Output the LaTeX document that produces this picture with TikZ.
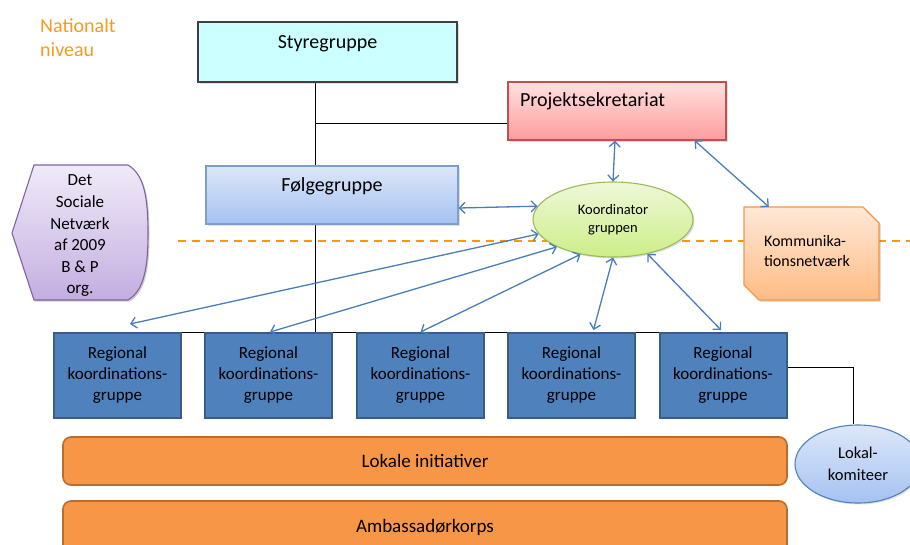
\documentclass[tikz,border=0pt]{standalone}
\usepackage{fontspec}
\setmainfont{Carlito}
\usetikzlibrary{arrows.meta,shapes.geometric,shadows,calc}
\definecolor{natorange}{HTML}{F79A1E}
\definecolor{dashorange}{HTML}{FF9900}
\definecolor{stycyan}{HTML}{CCFFFF}
\definecolor{arrowblue}{HTML}{4A7EBB}
\definecolor{regfill}{HTML}{4F81BD}
\definecolor{regdraw}{HTML}{385D8A}
\definecolor{orfill}{HTML}{F79646}
\definecolor{ordraw}{HTML}{B66D31}
\definecolor{pinktop}{HTML}{FFE0E0}
\definecolor{pinkbot}{HTML}{FF9C9C}
\definecolor{pinkdraw}{HTML}{C0504D}
\definecolor{bluetop}{HTML}{DDE7F8}
\definecolor{bluebot}{HTML}{A5C2F2}
\definecolor{bluedraw}{HTML}{7BA0CD}
\definecolor{greentop}{HTML}{EEF8D8}
\definecolor{greenbot}{HTML}{CDEE88}
\definecolor{greendraw}{HTML}{9BBB59}
\definecolor{komtop}{HTML}{FFE8D6}
\definecolor{kombot}{HTML}{FFBC84}
\definecolor{komdraw}{HTML}{F79646}
\definecolor{purtop}{HTML}{F0EAF8}
\definecolor{purbot}{HTML}{C3AEE0}
\definecolor{purdraw}{HTML}{8064A2}
\pgfdeclarelayer{deep}
\pgfdeclarelayer{background}
\pgfsetlayers{deep,background,main}
\begin{document}
\begin{tikzpicture}[x=1pt,y=-1pt,
  shad/.style={drop shadow={opacity=0.25,shadow xshift=1.5pt,shadow yshift=-1.5pt}},
  topbox/.style={rectangle, inner sep=0pt, font=\fontsize{20}{24}\selectfont, line width=1.2pt, shad},
  regbox/.style={rectangle, inner sep=0pt, minimum width=127pt, minimum height=85pt,
     fill=regfill, draw=regdraw, line width=2pt, align=center,
     font=\fontsize{17}{21}\selectfont},
  layerbox/.style={rectangle, rounded corners=8pt, minimum width=724pt,
     fill=orfill, draw=ordraw, line width=1.6pt, font=\fontsize{19}{23}\selectfont},
  arr/.style={draw=arrowblue, line width=1.3pt, <->, >={Straight Barb[length=5.5pt,width=11pt]}},
  conn/.style={draw=black, line width=0.9pt}
]
\useasboundingbox (0,0) rectangle (910,544);

% title
\node[anchor=north west, inner sep=0pt, align=left, text=natorange,
      font=\fontsize{20}{24}\selectfont] (nat) at (40,18.5) {Nationalt\\niveau};

% top boxes
\node[topbox, fill=stycyan, draw=black!75, line width=1.6pt, minimum width=259pt,
      text height=26.5pt, text depth=33.5pt] (sty) at (327.5,52) {Styregruppe};
\node[topbox, top color=pinktop, bottom color=pinkbot, draw=pinkdraw,
      text width=194pt, inner xsep=12pt, align=left,
      text height=24pt, text depth=34pt] (proj) at (617,111) {Projektsekretariat};
\node[topbox, top color=bluetop, bottom color=bluebot, draw=bluedraw, minimum width=252pt,
      text height=25.5pt, text depth=32.5pt] (folg) at (332,195) {Følgegruppe};

% coordinator ellipse
\node[ellipse, inner sep=0pt, minimum width=160pt, minimum height=75pt,
      top color=greentop, bottom color=greenbot, draw=greendraw, line width=1.1pt, shad,
      align=center, font=\fontsize{14.5}{18}\selectfont] (ell) at (613,219.5) {Koordinator\\gruppen};

% Kommunikationsnetvaerk (snipped corners)
\begin{pgfonlayer}{background}
\fill[black, opacity=0.2] (745.5,208.5) -- (864.5,208.5) -- (880.5,224.5) -- (880.5,301.5) -- (760.5,301.5) -- (745.5,286.5) -- cycle;
\path[top color=komtop, bottom color=kombot, draw=komdraw, line width=1.1pt]
  (744,207) -- (863,207) -- (879,223) -- (879,300) -- (759,300) -- (744,285) -- cycle;
\end{pgfonlayer}
\node[rectangle, inner sep=0pt, minimum width=135pt, minimum height=93pt, text width=95pt,
      align=left, font=\fontsize{16}{19.5}\selectfont] (komm) at (811.5,251)
      {Kommunika-\\tionsnetværk};

% Det Sociale Netvaerk shape
\fill[black, opacity=0.2] (35.5,166.5) -- (129.5,166.5) .. controls (146.5,176.5) and (149.5,201.5) .. (149.5,234.5)
   .. controls (149.5,266.5) and (146.5,291.5) .. (129.5,301.5) -- (35.5,301.5) -- (13.5,234.5) -- cycle;
\path[top color=purtop, bottom color=purbot, draw=purdraw, line width=1.1pt]
  (34,165) -- (128,165) .. controls (145,175) and (148,200) .. (148,233)
   .. controls (148,265) and (145,290) .. (128,300) -- (34,300) -- (12,233) -- cycle;
\node[inner sep=0pt, align=center, font=\fontsize{17}{21.6}\selectfont] (dsn) at (80,236)
  {Det\\Sociale\\Netværk\\af 2009\\B \& P\\org.};

% regional boxes
\node[regbox] (r1) at (117.5,375.5) {Regional\\koordinations-\\gruppe};
\node[regbox] (r2) at (268.5,375.5) {Regional\\koordinations-\\gruppe};
\node[regbox] (r3) at (420.5,375.5) {Regional\\koordinations-\\gruppe};
\node[regbox] (r4) at (571.5,375.5) {Regional\\koordinations-\\gruppe};
\node[regbox] (r5) at (723,375.5) {Regional\\koordinations-\\gruppe};

% local layers
\node[layerbox, minimum height=48pt] (lok) at (425,461) {Lokale initiativer};
\node[layerbox, minimum height=52pt] (amb) at (425,527) {Ambassadørkorps};

% Lokalkomiteer
\node[ellipse, inner sep=0pt, minimum width=126pt, minimum height=78pt,
      top color=bluetop, bottom color=bluebot, draw=regfill, line width=1.1pt, shad,
      align=center, font=\fontsize{16.5}{22}\selectfont] (lkom) at (858,464) {Lokal-\\komiteer};

% dashed national level line
\begin{pgfonlayer}{deep}
\coordinate (dl) at (910,241);
\draw[dashorange, line width=2.2pt, dash pattern=on 8pt off 6pt] (dsn.east |- dl) ++(68,0) -- (dl);
\end{pgfonlayer}

% black organisation lines
\begin{pgfonlayer}{background}
\coordinate (trunk) at (315,333);
\draw[conn] (sty.south -| trunk) -- (trunk);
\draw[conn] (trunk |- {$(proj.west)+(0,12)$}) -- ($(proj.west)+(0,12)$);
\draw[conn] (r1.north) -- (r5.north);
\draw[conn] ($(r5.east)+(0,-8.5)$) -| ($(lkom.north)+(-5,0)$);
\end{pgfonlayer}

% arrows
\draw[arr] ($(proj.south)+(-2,0)$) -- (ell.north);
\draw[arr] ($(proj.south east)+(-32,0)$) -- ($(komm.north west)+(25,2.5)$);
\draw[arr] ($(folg.east)+(0,13)$) -- (ell.170);
\draw[arr] ($(r1.north)+(12.5,-8)$) -- (ell.191);
\draw[arr] ($(r2.north)+(1.5,0)$) -- (ell.206);
\draw[arr] ($(r3.north)+(0,0)$) -- (ell.227);
\draw[arr] ($(r4.north)+(22,-2)$) -- (ell.270);
\draw[arr] ($(r5.north)+(-2,-2)$) -- (ell.315);
\end{tikzpicture}
\end{document}
